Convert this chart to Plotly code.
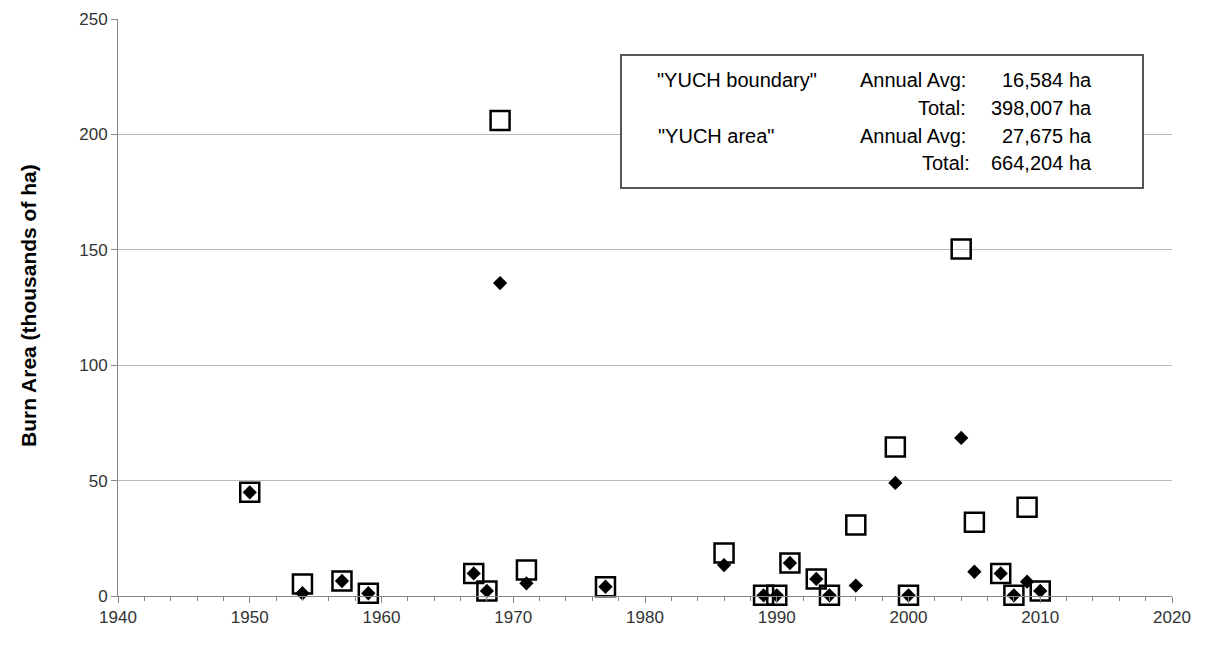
import plotly.graph_objects as go

# ---- data (thousands of ha) ----
years = [1950, 1954, 1957, 1959, 1967, 1968, 1969, 1971, 1977, 1986, 1989, 1990,
         1991, 1993, 1994, 1996, 1999, 2000, 2004, 2005, 2007, 2008, 2009, 2010]
yuch_area = [44.9, 5.2, 6.5, 1.2, 9.8, 2.2, 206.0, 11.3, 4.0, 18.6, 0.3, 0.3,
             14.3, 7.4, 0.3, 30.8, 64.6, 0.3, 150.3, 31.9, 9.8, 0.3, 38.4, 2.2]
yuch_boundary = [44.9, 1.2, 6.5, 1.2, 9.8, 2.2, 135.6, 5.5, 4.0, 13.4, 0.3, 0.3,
                 14.3, 7.4, 0.3, 4.5, 49.0, 0.3, 68.5, 10.5, 9.8, 0.3, 6.2, 2.2]

x_ticks = [1940, 1950, 1960, 1970, 1980, 1990, 2000, 2010, 2020]
y_ticks = [0, 50, 100, 150, 200, 250]

stats_rows = [
    ('"YUCH boundary"', "Annual Avg:", "16,584"),
    ("", "Total:", "398,007"),
    ('"YUCH area"', "Annual Avg:", "27,675"),
    ("", "Total:", "664,204"),
]

FONT = "Liberation Sans, Arial, sans-serif"

# page offset (browser body margin) and target plot-area pixel geometry
OFF = 8
L, R, T, B = 118, 1172, 19, 596
W, H = 1225 - 2 * OFF, 665 - 2 * OFF
PW, PH = R - L, B - T


def px(x):
    return (x - L) / PW


def py(y):
    return (B - y) / PH


fig = go.Figure()
fig.add_trace(go.Scatter(
    x=years, y=yuch_area, mode="markers", name="YUCH area",
    marker=dict(symbol="square-open", size=19, color="black",
                line=dict(color="black", width=2.5)),
    cliponaxis=False, showlegend=False,
))
fig.add_trace(go.Scatter(
    x=years, y=yuch_boundary, mode="markers", name="YUCH boundary",
    marker=dict(symbol="diamond", size=11, color="black",
                line=dict(color="black", width=0)),
    cliponaxis=False, showlegend=False,
))

shapes = [
    dict(type="rect", xref="paper", yref="paper",
         x0=px(621), x1=px(1143), y0=py(188), y1=py(55),
         line=dict(color="#555555", width=2), fillcolor="white", layer="above"),
]

annotations = []
line_y = [80, 108, 136, 163]
label_center = [737, None, 716, None]
mid_right = [968, 968, 968, 972]
fs = 20
for i, (lab, mid, num) in enumerate(stats_rows):
    yy = py(line_y[i])
    if lab:
        annotations.append(dict(text=lab, xref="paper", yref="paper",
                                x=px(label_center[i]), y=yy, xanchor="center",
                                yanchor="middle", showarrow=False,
                                font=dict(family=FONT, size=fs, color="black")))
    annotations.append(dict(text=mid, xref="paper", yref="paper",
                            x=px(mid_right[i]), y=yy, xanchor="right",
                            yanchor="middle", showarrow=False,
                            font=dict(family=FONT, size=fs, color="black")))
    annotations.append(dict(text=num, xref="paper", yref="paper",
                            x=px(1065), y=yy, xanchor="right",
                            yanchor="middle", showarrow=False,
                            font=dict(family=FONT, size=fs, color="black")))
    annotations.append(dict(text="ha", xref="paper", yref="paper",
                            x=px(1067), y=yy, xanchor="left",
                            yanchor="middle", showarrow=False,
                            font=dict(family=FONT, size=fs, color="black")))

annotations.append(dict(text="<b>Burn Area (thousands of ha)</b>",
                        xref="paper", yref="paper", x=px(28), y=py(306),
                        xanchor="center", yanchor="middle", textangle=-90,
                        showarrow=False,
                        font=dict(family=FONT, size=21, color="black")))

fig.update_layout(
    width=W, height=H,
    margin=dict(l=L - OFF, r=(W + OFF) - R, t=T - OFF, b=(H + OFF) - B,
                autoexpand=False),
    paper_bgcolor="white", plot_bgcolor="white",
    font=dict(family=FONT, size=17, color="#333333"),
    shapes=shapes, annotations=annotations,
    xaxis=dict(range=[1940, 2020], tickvals=x_ticks,
               ticks="outside", ticklen=6, tickcolor="#888888",
               minor=dict(dtick=2, ticks="outside", ticklen=4, tickcolor="#888888"),
               showgrid=False, zeroline=False,
               showline=True, linecolor="#888888", linewidth=1,
               tickfont=dict(family=FONT, size=17, color="#333333")),
    yaxis=dict(range=[0, 250], tickvals=y_ticks,
               ticks="outside", ticklen=6, tickcolor="#888888",
               showgrid=True, gridcolor="#bbbbbb", gridwidth=1,
               zeroline=False, showline=True, linecolor="#888888", linewidth=1,
               tickfont=dict(family=FONT, size=17, color="#333333")),
)

fig.write_html("out.html")
